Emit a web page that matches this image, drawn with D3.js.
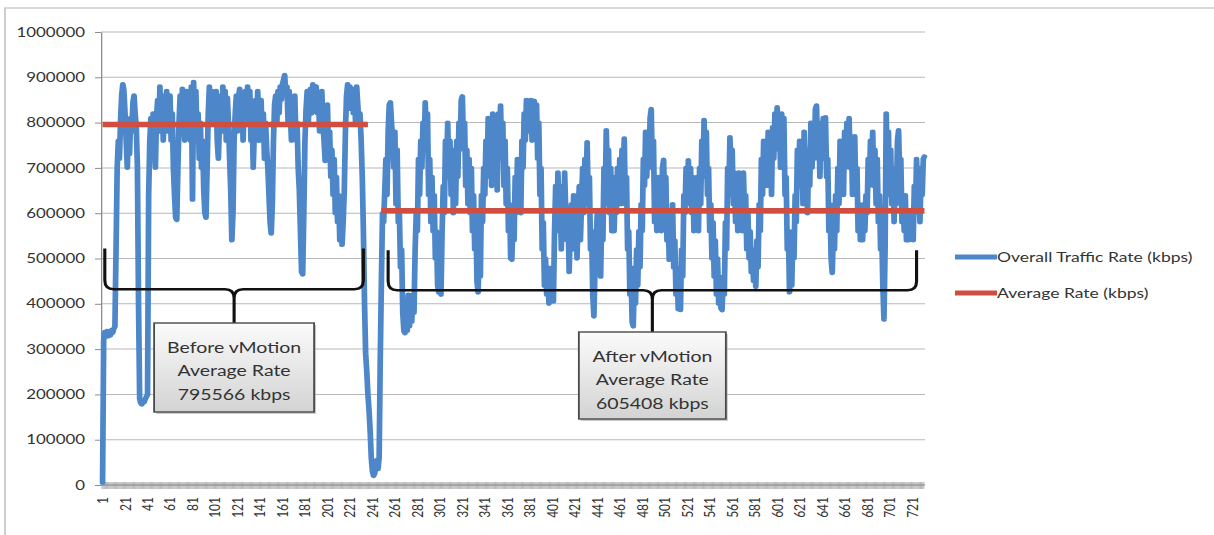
<!DOCTYPE html>
<html>
<head>
<meta charset="utf-8">
<script src="https://cdn.jsdelivr.net/npm/d3@7"></script>
<style>
html,body{margin:0;padding:0;background:#fff;}
svg{display:block;font-family:Lato,"Open Sans",sans-serif;}
</style>
</head>
<body>
<svg id="chart" width="1214" height="535"></svg>
<script>
// ---------------- DATA ----------------
const yTickValues = [0,100000,200000,300000,400000,500000,600000,700000,800000,900000,1000000];
const xTickLabels = [1,21,41,61,81,101,121,141,161,181,201,221,241,261,281,301,321,341,361,381,401,421,441,461,481,501,521,541,561,581,601,621,641,661,681,701,721];
const seriesNames = ["Overall Traffic Rate (kbps)","Average Rate (kbps)"];

// Overall Traffic Rate (kbps), one value per sample 1..732
const trafficRate = [
5000,320000,338000,332000,340000,328000,335000,330000,342000,336000,345000,350000,520000,700000,760000,720000,805000,860000,885000,870000,
820000,760000,700000,780000,730000,810000,780000,845000,860000,820000,790000,700000,400000,190000,180000,178000,185000,183000,190000,195000,
200000,640000,760000,810000,740000,820000,760000,700000,815000,850000,780000,880000,800000,860000,760000,855000,800000,870000,780000,830000,
860000,760000,820000,700000,640000,590000,585000,700000,800000,860000,780000,875000,820000,760000,860000,870000,780000,840000,760000,880000,
630000,890000,800000,870000,760000,820000,720000,800000,700000,760000,650000,600000,590000,700000,820000,880000,800000,870000,820000,860000,
800000,870000,760000,720000,800000,860000,780000,880000,820000,870000,760000,855000,800000,720000,650000,540000,600000,760000,820000,860000,
780000,860000,875000,800000,860000,760000,840000,870000,800000,880000,820000,870000,760000,820000,700000,780000,850000,800000,870000,760000,
820000,850000,760000,820000,720000,800000,740000,700000,640000,580000,555000,620000,760000,840000,860000,800000,870000,820000,880000,850000,
885000,895000,905000,860000,880000,800000,870000,820000,760000,840000,800000,860000,760000,800000,700000,650000,560000,470000,465000,600000,
760000,830000,870000,800000,860000,875000,820000,885000,840000,870000,880000,820000,860000,780000,850000,870000,800000,760000,715000,780000,
840000,740000,780000,680000,740000,640000,720000,600000,680000,580000,640000,540000,620000,530000,580000,650000,780000,860000,885000,840000,
880000,830000,875000,820000,870000,800000,880000,840000,800000,820000,760000,680000,560000,400000,290000,250000,200000,165000,120000,60000,
30000,20000,25000,40000,55000,35000,60000,280000,450000,600000,580000,650000,720000,640000,780000,840000,845000,800000,760000,700000,
780000,620000,740000,580000,600000,480000,520000,380000,340000,335000,400000,340000,420000,350000,410000,360000,420000,380000,520000,600000,
560000,720000,640000,760000,700000,800000,740000,845000,760000,820000,640000,720000,580000,680000,560000,640000,500000,560000,440000,425000,
480000,420000,560000,660000,600000,760000,700000,800000,680000,760000,640000,740000,600000,700000,620000,760000,680000,800000,740000,850000,
858000,760000,800000,660000,740000,620000,720000,600000,700000,560000,640000,520000,600000,450000,425000,520000,460000,640000,580000,700000,
640000,760000,680000,810000,720000,780000,660000,820000,740000,700000,790000,650000,820000,760000,838000,720000,800000,660000,760000,620000,
700000,560000,620000,500000,497000,580000,540000,680000,600000,720000,640000,700000,600000,760000,700000,820000,760000,850000,780000,845000,
800000,850000,760000,845000,848000,780000,840000,720000,800000,640000,700000,520000,580000,440000,500000,420000,480000,400000,460000,410000,
480000,405000,560000,660000,560000,690000,600000,660000,520000,640000,560000,690000,600000,540000,600000,470000,560000,620000,520000,640000,
540000,620000,500000,600000,660000,540000,620000,700000,600000,720000,660000,757000,620000,680000,520000,560000,420000,372000,480000,540000,
600000,480000,560000,460000,600000,540000,700000,620000,783000,680000,740000,600000,700000,560000,680000,560000,660000,600000,700000,620000,
720000,620000,740000,680000,765000,620000,680000,520000,560000,420000,480000,360000,350000,460000,400000,520000,440000,560000,480000,620000,
560000,720000,660000,780000,680000,760000,700000,810000,830000,700000,760000,580000,640000,560000,680000,580000,640000,560000,700000,718000,
620000,680000,540000,600000,497000,580000,520000,620000,480000,540000,420000,480000,388000,440000,386000,520000,460000,640000,600000,700000,
620000,717000,640000,700000,600000,680000,560000,640000,580000,680000,560000,700000,620000,760000,680000,806000,720000,780000,640000,700000,
560000,620000,500000,580000,460000,540000,420000,500000,400000,460000,390000,386000,460000,420000,580000,520000,700000,640000,768000,700000,
740000,620000,690000,580000,660000,560000,690000,600000,660000,560000,690000,600000,640000,520000,600000,500000,560000,470000,520000,450000,
500000,437000,540000,480000,620000,560000,720000,640000,760000,680000,740000,660000,780000,700000,740000,640000,790000,720000,820000,760000,
834000,740000,800000,700000,820000,760000,810000,640000,680000,520000,560000,425000,480000,440000,560000,500000,640000,580000,740000,660000,
760000,660000,740000,620000,780000,680000,740000,600000,720000,660000,800000,700000,780000,720000,830000,838000,740000,800000,680000,780000,
720000,810000,760000,812000,680000,720000,560000,620000,500000,468000,560000,520000,640000,560000,700000,620000,760000,680000,740000,640000,
780000,700000,800000,740000,810000,700000,770000,640000,740000,770000,640000,700000,560000,620000,540000,600000,540000,620000,560000,640000,
600000,720000,660000,760000,680000,780000,660000,740000,620000,720000,580000,640000,520000,560000,440000,365000,520000,820000,700000,780000,
640000,740000,620000,700000,580000,660000,620000,760000,783000,680000,720000,580000,640000,560000,640000,540000,600000,540000,580000,560000,
600000,540000,660000,600000,720000,640000,700000,580000,680000,640000,720000,725000
];
const categories = trafficRate.map((d, i) => i + 1);

// Average Rate (kbps): constant value over a range of samples
const averageSegments = [
  {from: 1,   to: 237, value: 795566},
  {from: 249, to: 732, value: 605408}
];

// Brace annotations (sample range + value levels of the bracket)
const annotations = [
  {lines: ["Before vMotion", "Average Rate", "795566 kbps"], from: 3,   to: 233, tip: 522000, bar: 432000},
  {lines: ["After vMotion",  "Average Rate", "605408 kbps"], from: 255, to: 725, tip: 518000, bar: 430000}
];

// ---------------- LAYOUT / STYLE ----------------
const SX = 1.3;                 // horizontal stretch of the original picture
const ix = px => px / SX;       // pixel x -> inner x
const P = {left: 101, right: 925, top: 32, bottom: 485};
const BLUE = "#4d87ca", RED = "#d04e3f", TXT = "#333333";
const boxLayout = [{w: 160, h: 89, top: 323}, {w: 147, h: 87, top: 332}];

const svg = d3.select("#chart");
const defs = svg.append("defs");
const grad = defs.append("linearGradient").attr("id", "boxgrad").attr("x1", 0).attr("y1", 0).attr("x2", 0).attr("y2", 1);
grad.append("stop").attr("offset", "0%").attr("stop-color", "#fbfbfb");
grad.append("stop").attr("offset", "100%").attr("stop-color", "#d3d3d3");

const g = svg.append("g").attr("transform", `scale(${SX},1)`);

// frame
g.append("path").attr("d", `M${ix(5)},535 V8 H${ix(1214)}`)
  .attr("fill", "none").attr("stroke", "#cdcdcd").attr("stroke-width", 1.5);

const x = d3.scalePoint().domain(categories).range([ix(P.left + 1), ix(P.right)]).padding(0.5);
const step = x.step();
const y = d3.scaleLinear().domain([0, 1000000]).range([P.bottom, P.top]);

// gridlines
g.append("g").selectAll("line").data(yTickValues).join("line")
  .attr("x1", ix(P.left)).attr("x2", ix(P.right))
  .attr("y1", d => y(d)).attr("y2", d => y(d))
  .attr("stroke", "#b9b9b9").attr("stroke-width", 1);

// y axis
const yAxis = g.append("g").attr("transform", `translate(${ix(P.left)},0)`)
  .call(d3.axisLeft(y).tickValues(yTickValues).tickFormat(d3.format("d"))
        .tickSize(6 / SX).tickSizeOuter(0).tickPadding(10 / SX));
yAxis.select(".domain").attr("stroke", "#8c8c8c");
yAxis.selectAll(".tick line").attr("stroke", "#8c8c8c");
yAxis.selectAll("text").attr("fill", TXT).style("font-size", "13px").style("font-family", "Lato");

// x axis baseline + dense category ticks
g.append("line").attr("x1", ix(P.left)).attr("x2", ix(P.right)).attr("y1", P.bottom).attr("y2", P.bottom)
  .attr("stroke", "#9a9a9a").attr("stroke-width", 1);
g.append("g").selectAll("line").data(categories).join("line")
  .attr("x1", d => x(d) - step / 2).attr("x2", d => x(d) - step / 2)
  .attr("y1", P.bottom - 3).attr("y2", P.bottom + 4)
  .attr("stroke", "#8f8f8f").attr("stroke-width", 0.55);

// x labels
g.append("g").selectAll("text").data(xTickLabels).join("text")
  .attr("transform", d => `translate(${x(d)},497) rotate(-90)`)
  .attr("text-anchor", "end").attr("dy", "0.35em")
  .attr("fill", TXT).style("font-size", "12px")
  .text(d => d);

// traffic line
const line = d3.line().x((d, i) => x(categories[i])).y(d => y(d));
g.append("path").datum(trafficRate).attr("d", line)
  .attr("fill", "none").attr("stroke", BLUE).attr("stroke-width", 4.4)
  .attr("stroke-linejoin", "round").attr("stroke-linecap", "round");

// average segments
g.append("g").selectAll("line").data(averageSegments).join("line")
  .attr("x1", d => x(d.from)).attr("x2", d => x(d.to))
  .attr("y1", d => y(d.value)).attr("y2", d => y(d.value))
  .attr("stroke", RED).attr("stroke-width", 5.5);

// braces + boxes
annotations.forEach((a, k) => {
  const xl = x(a.from), xr = x(a.to), xm = (xl + xr) / 2;
  const yt = y(a.tip), yb = y(a.bar);
  const L = boxLayout[k];
  const r = 9, rx = 9 / SX;
  const d = `M${xl},${yt} V${yb - r} Q${xl},${yb} ${xl + rx},${yb} H${xm - rx} Q${xm},${yb} ${xm},${yb + r} V${L.top}` +
            ` M${xm},${yb + r} Q${xm},${yb} ${xm + rx},${yb} H${xr - rx} Q${xr},${yb} ${xr},${yb - r} V${yt}`;
  g.append("path").attr("d", d).attr("fill", "none").attr("stroke", "#111").attr("stroke-width", 2.4);
  const bw = ix(L.w);
  g.append("rect").attr("x", xm - bw / 2 + 2 / SX).attr("y", L.top + 2).attr("width", bw).attr("height", L.h)
    .attr("fill", "#9a9a9a").attr("opacity", 0.5);
  g.append("rect").attr("x", xm - bw / 2).attr("y", L.top).attr("width", bw).attr("height", L.h)
    .attr("fill", "url(#boxgrad)").attr("stroke", "#4a4a4a").attr("stroke-width", 1.4);
  a.lines.forEach((t, j) => {
    g.append("text").attr("x", xm).attr("y", L.top + 30 + j * 23.5)
      .attr("text-anchor", "middle").attr("fill", TXT).style("font-size", "15px").text(t);
  });
});

// legend
const legendY = [257, 293];
seriesNames.forEach((name, i) => {
  const col = i === 0 ? BLUE : RED;
  g.append("line").attr("x1", ix(955)).attr("x2", ix(997)).attr("y1", legendY[i]).attr("y2", legendY[i])
    .attr("stroke", col).attr("stroke-width", 5);
  g.append("text").attr("x", ix(997)).attr("y", legendY[i] + 5).attr("fill", TXT)
    .style("font-size", "13.5px").text(name);
});
</script>
</body>
</html>
